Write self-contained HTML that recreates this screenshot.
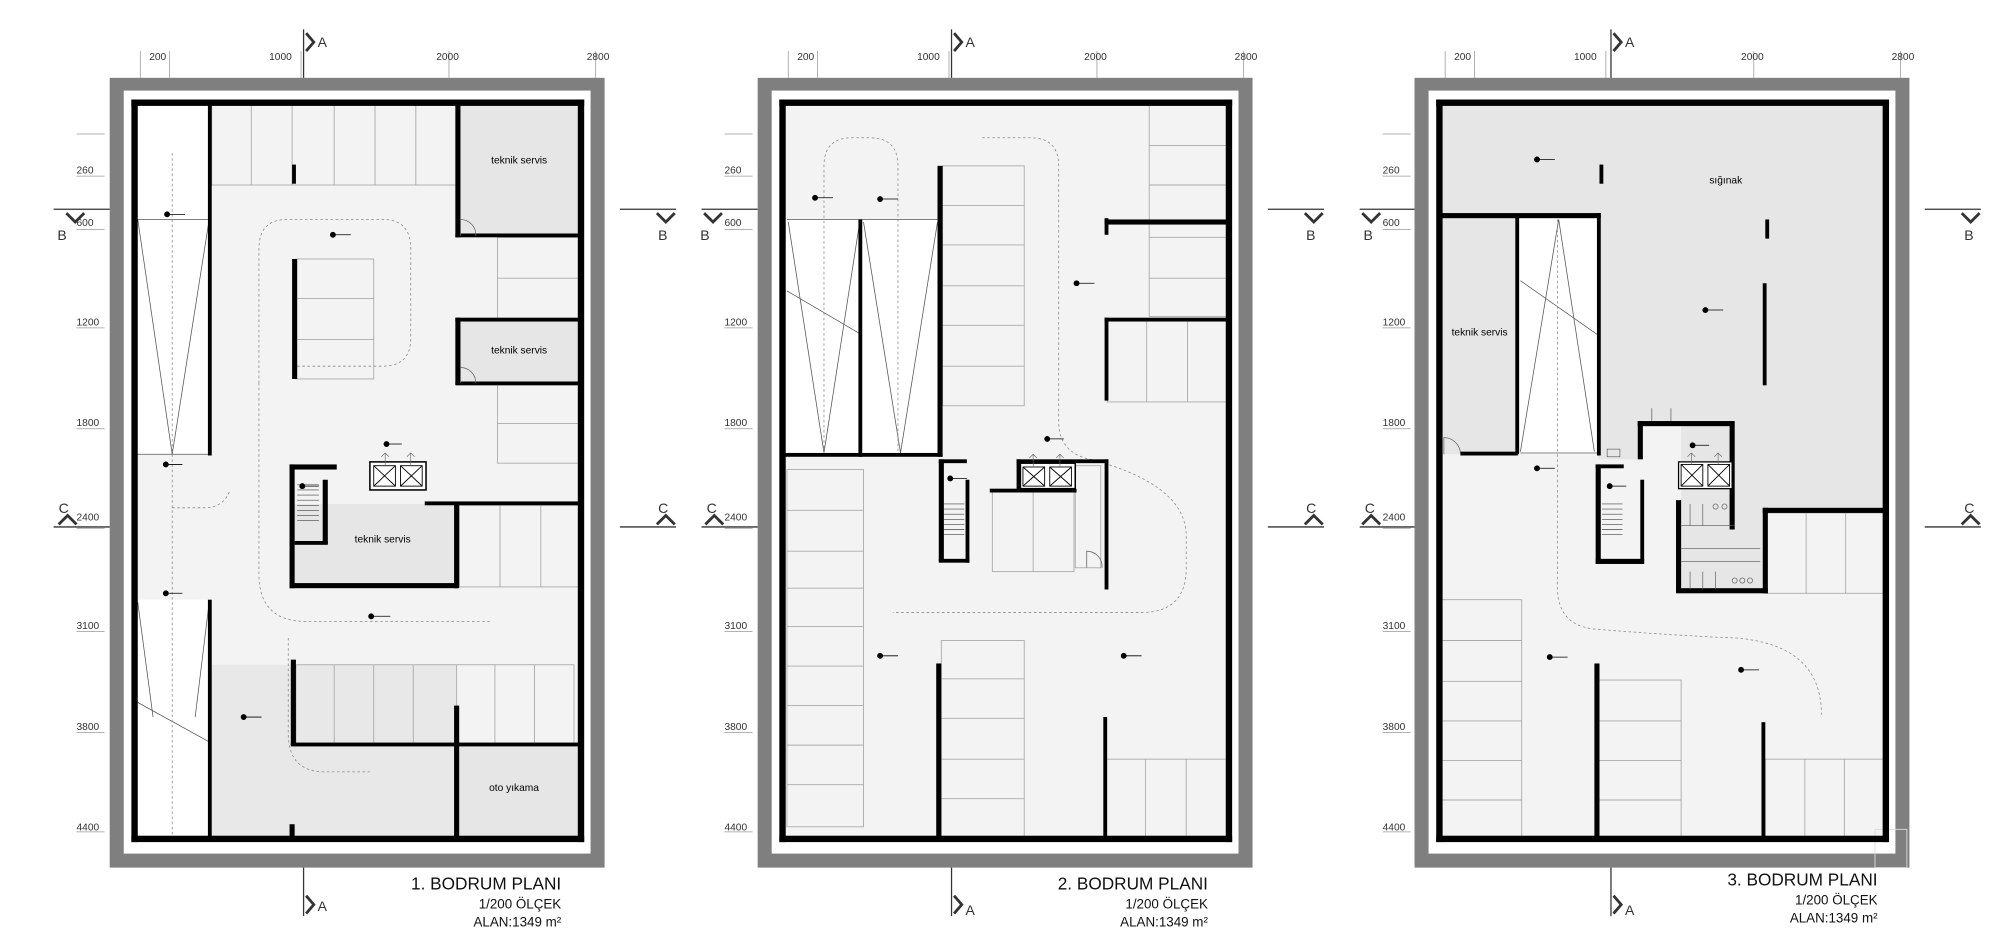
<!DOCTYPE html>
<html><head><meta charset="utf-8"><style>
html,body{margin:0;padding:0;background:#fff;}
svg{display:block;}
text{font-family:"Liberation Sans",sans-serif;}
</style></head><body>
<svg width="2000" height="948" viewBox="0 0 1568 743" preserveAspectRatio="none" xmlns="http://www.w3.org/2000/svg">
<rect width="1568" height="743" fill="#fff"/>

<!-- ================= PLAN 1 ================= -->
<g>
<!-- frame -->
<rect x="86" y="61" width="388" height="619" fill="#7f7f7f"/>
<rect x="97" y="71" width="366" height="598" fill="#fff"/>
<rect x="105" y="80" width="351" height="578" fill="#f3f3f3"/>
<!-- shaded -->
<rect x="166" y="521" width="192" height="137" fill="#e8e8e8"/>
<rect x="358" y="584" width="98" height="74" fill="#e6e6e6"/>
<rect x="360" y="82" width="96" height="102" fill="#e6e6e6"/>
<rect x="360" y="251" width="96" height="49" fill="#e6e6e6"/>
<rect x="230" y="395" width="126" height="64" fill="#e6e6e6"/>
<!-- ramps -->
<rect x="107" y="82" width="58" height="274" fill="#fff"/>
<rect x="107" y="470" width="58" height="188" fill="#fff"/>
<g stroke="#555" stroke-width="0.6" fill="none">
<line x1="107" y1="172" x2="165" y2="172"/><line x1="108" y1="172" x2="135" y2="356"/><line x1="164" y1="172" x2="135" y2="356"/>
<line x1="107" y1="356" x2="165" y2="356"/>
<line x1="108" y1="472" x2="120" y2="562"/><line x1="164" y1="472" x2="153" y2="562"/>
<line x1="107" y1="550" x2="165" y2="582"/>
</g>
<g stroke="#888" stroke-width="0.6" stroke-dasharray="2,2" fill="none">
<line x1="135" y1="120" x2="135" y2="658"/>
<path d="M226 500 L226 575 Q226 605 255 605 L290 605"/>
<path d="M233 287 L300 287 Q322 287 322 265 L322 195 Q322 172 300 172 L225 172 Q203 172 203 195 L203 300"/>
<path d="M135 398 L160 398 Q175 398 180 385 M203 300 L203 450 Q203 487 240 487 L386 487"/>
</g>
<!-- parking stalls -->
<g stroke="#aaa" stroke-width="0.7" fill="none">
<rect x="166" y="82" width="192" height="63"/>
<line x1="197" y1="82" x2="197" y2="145"/><line x1="229" y1="82" x2="229" y2="145"/><line x1="262" y1="82" x2="262" y2="145"/><line x1="294" y1="82" x2="294" y2="145"/><line x1="326" y1="82" x2="326" y2="145"/>
<rect x="390" y="186" width="66" height="64"/><line x1="390" y1="218" x2="456" y2="218"/>
<rect x="390" y="301" width="66" height="62"/><line x1="390" y1="332" x2="456" y2="332"/>
<rect x="360" y="396" width="96" height="64"/><line x1="392" y1="396" x2="392" y2="460"/><line x1="424" y1="396" x2="424" y2="460"/>
<rect x="232" y="521" width="218" height="63"/>
<line x1="262" y1="521" x2="262" y2="584"/><line x1="293" y1="521" x2="293" y2="584"/><line x1="324" y1="521" x2="324" y2="584"/><line x1="358" y1="521" x2="358" y2="584"/><line x1="388" y1="521" x2="388" y2="584"/><line x1="419" y1="521" x2="419" y2="584"/>
<rect x="232" y="203" width="61" height="94"/><line x1="232" y1="234" x2="293" y2="234"/><line x1="232" y1="266" x2="293" y2="266"/>
</g>
<!-- walls -->
<g fill="#000">
<rect x="103" y="78" width="355" height="5"/><rect x="103" y="655" width="355" height="5"/>
<rect x="103" y="78" width="5" height="582"/><rect x="453" y="78" width="5" height="582"/>
<rect x="163" y="82" width="3" height="275"/><rect x="163" y="470" width="3" height="188"/>
<rect x="357" y="82" width="4" height="104"/><rect x="357" y="183" width="99" height="3"/>
<rect x="357" y="249" width="99" height="3"/><rect x="357" y="249" width="4" height="52"/><rect x="357" y="299" width="99" height="3"/>
<rect x="229" y="129" width="3" height="15"/>
<rect x="229" y="203" width="4" height="94"/>
<rect x="227" y="364" width="4" height="97"/><rect x="227" y="364" width="37" height="4"/><rect x="227" y="457" width="132" height="4"/><rect x="356" y="394" width="4" height="67"/><rect x="333" y="393" width="124" height="3"/>
<rect x="253" y="376" width="4" height="50"/><rect x="231" y="424" width="26" height="3"/>
<rect x="228" y="517" width="4" height="67"/><rect x="228" y="582" width="228" height="3"/>
<rect x="356" y="553" width="4" height="105"/>
<rect x="227" y="646" width="4" height="10"/>
</g>
<!-- lifts -->
<g stroke="#000" stroke-width="1.2" fill="#fff">
<rect x="290" y="362" width="44" height="22"/>
</g>
<g stroke="#000" stroke-width="0.7" fill="none">
<rect x="293" y="365" width="17" height="16"/><line x1="293" y1="365" x2="310" y2="381"/><line x1="310" y1="365" x2="293" y2="381"/>
<rect x="314" y="365" width="17" height="16"/><line x1="314" y1="365" x2="331" y2="381"/><line x1="331" y1="365" x2="314" y2="381"/>
<path d="M302 365 V355 M299 358 L302 355 L305 358 M322 365 V355 M319 358 L322 355 L325 358" stroke="#666" stroke-width="0.5"/>
<path d="M233 380 H250 M233 384 H250 M233 388 H250 M233 392 H250 M233 396 H250 M233 400 H250 M233 404 H250 M233 408 H250" stroke="#444" stroke-width="0.5"/>
<path d="M361 185 V172 A12 12 0 0 1 373 185 M361 300 V288 A12 12 0 0 1 373 300" stroke="#666" stroke-width="0.6"/>
</g>
<text x="407" y="128" font-size="8" text-anchor="middle">teknik servis</text>
<text x="407" y="277" font-size="8" text-anchor="middle">teknik servis</text>
<text x="300" y="425" font-size="8" text-anchor="middle">teknik servis</text>
<text x="403" y="620" font-size="8" text-anchor="middle">oto yıkama</text>
<!-- level marks -->
<g stroke="#000" stroke-width="0.6"><circle cx="131" cy="168" r="2" fill="#000"/><line x1="131" y1="168" x2="145" y2="168"/>
<circle cx="261" cy="184" r="2" fill="#000"/><line x1="261" y1="184" x2="275" y2="184"/>
<circle cx="130" cy="364" r="2" fill="#000"/><line x1="130" y1="364" x2="143" y2="364"/>
<circle cx="303" cy="348" r="2" fill="#000"/><line x1="303" y1="348" x2="315" y2="348"/>
<circle cx="237" cy="381" r="2" fill="#000"/><line x1="237" y1="381" x2="250" y2="381"/>
<circle cx="130" cy="465" r="2" fill="#000"/><line x1="130" y1="465" x2="143" y2="465"/>
<circle cx="291" cy="483" r="2" fill="#000"/><line x1="291" y1="483" x2="306" y2="483"/>
<circle cx="191" cy="562" r="2" fill="#000"/><line x1="191" y1="562" x2="205" y2="562"/></g>
</g>

<!-- ================= PLAN 2 ================= -->
<g>
<rect x="594" y="61" width="388" height="619" fill="#7f7f7f"/>
<rect x="605" y="71" width="366" height="598" fill="#fff"/>
<rect x="613" y="80" width="351" height="578" fill="#f3f3f3"/>
<rect x="615" y="172" width="122" height="185" fill="#fff"/>
<g stroke="#555" stroke-width="0.6" fill="none">
<line x1="617" y1="172" x2="737" y2="172"/>
<line x1="618" y1="174" x2="646" y2="355"/><line x1="674" y1="174" x2="646" y2="355"/>
<line x1="677" y1="174" x2="706" y2="355"/><line x1="735" y1="174" x2="706" y2="355"/>
<line x1="617" y1="228" x2="675" y2="262"/>
</g>
<g stroke="#888" stroke-width="0.6" stroke-dasharray="2,2" fill="none">
<path d="M646 355 V130 Q646 108 668 108 L682 108 Q704 108 704 130 V355"/>
<path d="M770 108 L808 108 Q830 108 830 130 L830 330 Q830 355 855 360 Q930 380 930 420 L930 445 Q930 480 895 480 L700 480"/>
</g>
<g stroke="#aaa" stroke-width="0.7" fill="none">
<rect x="739" y="130" width="64" height="188"/>
<line x1="739" y1="161" x2="803" y2="161"/><line x1="739" y1="192" x2="803" y2="192"/><line x1="739" y1="224" x2="803" y2="224"/><line x1="739" y1="255" x2="803" y2="255"/><line x1="739" y1="287" x2="803" y2="287"/>
<rect x="901" y="82" width="61" height="166"/>
<line x1="901" y1="114" x2="962" y2="114"/><line x1="901" y1="145" x2="962" y2="145"/><line x1="901" y1="186" x2="962" y2="186"/><line x1="901" y1="218" x2="962" y2="218"/>
<rect x="868" y="251" width="94" height="64"/><line x1="899" y1="251" x2="899" y2="315"/><line x1="931" y1="251" x2="931" y2="315"/>
<rect x="617" y="368" width="60" height="280"/>
<line x1="617" y1="400" x2="677" y2="400"/><line x1="617" y1="432" x2="677" y2="432"/><line x1="617" y1="461" x2="677" y2="461"/><line x1="617" y1="491" x2="677" y2="491"/><line x1="617" y1="522" x2="677" y2="522"/><line x1="617" y1="553" x2="677" y2="553"/><line x1="617" y1="584" x2="677" y2="584"/><line x1="617" y1="615" x2="677" y2="615"/>
<rect x="738" y="502" width="65" height="155"/>
<line x1="738" y1="532" x2="803" y2="532"/><line x1="738" y1="563" x2="803" y2="563"/><line x1="738" y1="595" x2="803" y2="595"/><line x1="738" y1="626" x2="803" y2="626"/>
<rect x="867" y="595" width="95" height="62"/><line x1="898" y1="595" x2="898" y2="657"/><line x1="930" y1="595" x2="930" y2="657"/>
<rect x="778" y="385" width="64" height="63"/><line x1="810" y1="385" x2="810" y2="448"/>
<rect x="843" y="365" width="20" height="80"/>
</g>
<g fill="#000">
<rect x="611" y="78" width="355" height="5"/><rect x="611" y="655" width="355" height="5"/>
<rect x="611" y="78" width="5" height="582"/><rect x="961" y="78" width="5" height="582"/>
<rect x="735" y="130" width="4" height="228"/>
<rect x="673" y="172" width="3" height="186"/>
<rect x="613" y="355" width="126" height="3"/>
<rect x="866" y="172" width="96" height="4"/><rect x="866" y="171" width="3" height="13"/>
<rect x="866" y="249" width="96" height="3"/><rect x="866" y="249" width="3" height="65"/>
<rect x="736" y="360" width="4" height="80"/><rect x="736" y="360" width="22" height="3"/><rect x="736" y="438" width="24" height="3"/><rect x="757" y="376" width="3" height="65"/>
<rect x="797" y="360" width="72" height="3"/><rect x="866" y="360" width="3" height="102"/>
<rect x="797" y="360" width="3" height="24"/><rect x="776" y="383" width="68" height="3"/>
<rect x="734" y="520" width="4" height="138"/>
<rect x="865" y="562" width="3" height="96"/>
</g>
<g stroke="#000" stroke-width="0.7" fill="none">
<rect x="800" y="363" width="43" height="20" fill="#fff" stroke-width="1.2"/>
<rect x="802" y="366" width="17" height="15"/><line x1="802" y1="366" x2="819" y2="381"/><line x1="819" y1="366" x2="802" y2="381"/>
<rect x="823" y="366" width="17" height="15"/><line x1="823" y1="366" x2="840" y2="381"/><line x1="840" y1="366" x2="823" y2="381"/>
<path d="M810 366 V356 M807 359 L810 356 L813 359 M831 366 V356 M828 359 L831 356 L834 359" stroke="#666" stroke-width="0.5"/>
<path d="M740 395 H756 M740 399 H756 M740 403 H756 M740 407 H756 M740 411 H756 M740 415 H756 M740 419 H756" stroke="#444" stroke-width="0.5"/>
<path d="M852 445 V432 A12 12 0 0 1 864 445" stroke="#666" stroke-width="0.6"/>
</g>
<g stroke="#000" stroke-width="0.6"><circle cx="639" cy="155" r="2" fill="#000"/><line x1="639" y1="155" x2="653" y2="155"/>
<circle cx="690" cy="156" r="2" fill="#000"/><line x1="690" y1="156" x2="704" y2="156"/>
<circle cx="844" cy="222" r="2" fill="#000"/><line x1="844" y1="222" x2="858" y2="222"/>
<circle cx="821" cy="344" r="2" fill="#000"/><line x1="821" y1="344" x2="834" y2="344"/>
<circle cx="745" cy="375" r="2" fill="#000"/><line x1="745" y1="375" x2="758" y2="375"/>
<circle cx="690" cy="514" r="2" fill="#000"/><line x1="690" y1="514" x2="704" y2="514"/>
<circle cx="881" cy="514" r="2" fill="#000"/><line x1="881" y1="514" x2="895" y2="514"/></g>
</g>

<!-- ================= PLAN 3 ================= -->
<g>
<rect x="1109" y="61" width="388" height="619" fill="#7f7f7f"/>
<rect x="1120" y="71" width="366" height="598" fill="#fff"/>
<rect x="1128" y="80" width="351" height="578" fill="#f3f3f3"/>
<path d="M1130 82 H1477 V400 H1383 V462 H1318 V330 H1287 V360 H1253 V168 H1130 Z" fill="#e6e6e6"/>
<rect x="1130" y="170" width="59" height="186" fill="#e6e6e6"/>
<rect x="1191" y="170" width="61" height="186" fill="#fff"/>
<g stroke="#555" stroke-width="0.6" fill="none">
<line x1="1192" y1="354" x2="1222" y2="172"/><line x1="1250" y1="354" x2="1222" y2="172"/>
<line x1="1192" y1="355" x2="1253" y2="355"/>
<line x1="1192" y1="220" x2="1252" y2="262"/>
</g>
<g stroke="#888" stroke-width="0.6" stroke-dasharray="2,2" fill="none">
<path d="M1221 172 V460 Q1221 490 1250 493 Q1310 498 1360 500 Q1428 505 1428 560"/>
</g>
<g stroke="#aaa" stroke-width="0.7" fill="none">
<rect x="1385" y="402" width="92" height="63"/><line x1="1416" y1="402" x2="1416" y2="465"/><line x1="1447" y1="402" x2="1447" y2="465"/>
<rect x="1130" y="470" width="63" height="187"/>
<line x1="1130" y1="502" x2="1193" y2="502"/><line x1="1130" y1="534" x2="1193" y2="534"/><line x1="1130" y1="565" x2="1193" y2="565"/><line x1="1130" y1="596" x2="1193" y2="596"/><line x1="1130" y1="627" x2="1193" y2="627"/>
<rect x="1253" y="533" width="65" height="124"/><line x1="1253" y1="565" x2="1318" y2="565"/><line x1="1253" y1="596" x2="1318" y2="596"/><line x1="1253" y1="627" x2="1318" y2="627"/>
<rect x="1384" y="595" width="93" height="62"/><line x1="1415" y1="595" x2="1415" y2="657"/><line x1="1446" y1="595" x2="1446" y2="657"/>
<rect x="1470" y="650" width="25" height="30" stroke="#ddd"/>
</g>
<g fill="#000">
<rect x="1126" y="78" width="355" height="5"/><rect x="1126" y="655" width="355" height="5"/>
<rect x="1126" y="78" width="5" height="582"/><rect x="1476" y="78" width="5" height="582"/>
<rect x="1130" y="167" width="125" height="4"/><rect x="1252" y="167" width="3" height="190"/>
<rect x="1188" y="170" width="3" height="186"/><rect x="1145" y="354" width="45" height="3"/>
<rect x="1254" y="129" width="3" height="15"/><rect x="1384" y="172" width="3" height="15"/><rect x="1382" y="222" width="3" height="80"/>
<rect x="1251" y="364" width="4" height="78"/><rect x="1251" y="364" width="22" height="3"/><rect x="1251" y="438" width="38" height="4"/><rect x="1286" y="376" width="3" height="66"/>
<rect x="1284" y="330" width="4" height="30"/><rect x="1284" y="330" width="75" height="4"/><rect x="1356" y="330" width="4" height="85"/>
<rect x="1314" y="392" width="4" height="72"/><rect x="1314" y="461" width="72" height="4"/><rect x="1382" y="398" width="4" height="67"/><rect x="1382" y="398" width="97" height="4"/>
<rect x="1250" y="520" width="4" height="138"/><rect x="1381" y="566" width="3" height="92"/>
</g>
<g stroke="#000" stroke-width="0.7" fill="none">
<rect x="1316" y="362" width="42" height="21" fill="#fff" stroke-width="1"/>
<rect x="1318" y="364" width="17" height="17"/><line x1="1318" y1="364" x2="1335" y2="381"/><line x1="1335" y1="364" x2="1318" y2="381"/>
<rect x="1339" y="364" width="17" height="17"/><line x1="1339" y1="364" x2="1356" y2="381"/><line x1="1356" y1="364" x2="1339" y2="381"/>
<path d="M1326 364 V355 M1323 358 L1326 355 L1329 358 M1347 364 V355 M1344 358 L1347 355 L1350 358" stroke="#666" stroke-width="0.5"/>
<path d="M1256 395 H1272 M1256 399 H1272 M1256 403 H1272 M1256 407 H1272 M1256 411 H1272 M1256 415 H1272 M1256 419 H1272" stroke="#444" stroke-width="0.5"/>
<path d="M1132 356 V343 A13 13 0 0 1 1145 356" stroke="#666" stroke-width="0.6"/>
<path d="M1295 330 V320 M1310 330 V320" stroke="#666" stroke-width="0.6"/>
<rect x="1260" y="352" width="10" height="6" stroke="#555" stroke-width="0.5"/>
<path d="M1318 412 H1360 M1318 430 H1380 M1318 440 H1380" stroke="#555" stroke-width="0.5"/>
<circle cx="1345" cy="397" r="2" stroke="#555" stroke-width="0.5"/><circle cx="1352" cy="397" r="2" stroke="#555" stroke-width="0.5"/>
<circle cx="1360" cy="455" r="2" stroke="#555" stroke-width="0.5"/><circle cx="1366" cy="455" r="2" stroke="#555" stroke-width="0.5"/><circle cx="1372" cy="455" r="2" stroke="#555" stroke-width="0.5"/>
<path d="M1325 462 V448 M1335 462 V448 M1345 462 V448 M1325 412 V395 M1335 412 V395" stroke="#555" stroke-width="0.5"/>
</g>
<text x="1353" y="144" font-size="8" text-anchor="middle">sığınak</text>
<text x="1160" y="263" font-size="8" text-anchor="middle">teknik servis</text>
<g stroke="#000" stroke-width="0.6"><circle cx="1205" cy="125" r="2" fill="#000"/><line x1="1205" y1="125" x2="1219" y2="125"/>
<circle cx="1337" cy="243" r="2" fill="#000"/><line x1="1337" y1="243" x2="1351" y2="243"/>
<circle cx="1327" cy="349" r="2" fill="#000"/><line x1="1327" y1="349" x2="1340" y2="349"/>
<circle cx="1205" cy="367" r="2" fill="#000"/><line x1="1205" y1="367" x2="1219" y2="367"/>
<circle cx="1262" cy="381" r="2" fill="#000"/><line x1="1262" y1="381" x2="1275" y2="381"/>
<circle cx="1215" cy="515" r="2" fill="#000"/><line x1="1215" y1="515" x2="1229" y2="515"/>
<circle cx="1365" cy="525" r="2" fill="#000"/><line x1="1365" y1="525" x2="1379" y2="525"/></g>
</g>

<!-- ================= DIMENSIONS & SECTION MARKS ================= -->
<g stroke="#999" stroke-width="0.6">
<!-- top ticks -->
<line x1="110" y1="40" x2="110" y2="61"/><line x1="133" y1="40" x2="133" y2="61"/><line x1="236" y1="40" x2="236" y2="61"/><line x1="352" y1="40" x2="352" y2="61"/><line x1="467" y1="40" x2="467" y2="61"/>
<line x1="618" y1="40" x2="618" y2="61"/><line x1="641" y1="40" x2="641" y2="61"/><line x1="744" y1="40" x2="744" y2="61"/><line x1="860" y1="40" x2="860" y2="61"/><line x1="975" y1="40" x2="975" y2="61"/>
<line x1="1133" y1="40" x2="1133" y2="61"/><line x1="1156" y1="40" x2="1156" y2="61"/><line x1="1259" y1="40" x2="1259" y2="61"/><line x1="1375" y1="40" x2="1375" y2="61"/><line x1="1490" y1="40" x2="1490" y2="61"/>
<!-- left ticks -->
<line x1="60" y1="105" x2="82" y2="105"/><line x1="60" y1="138" x2="82" y2="138"/><line x1="60" y1="180" x2="82" y2="180"/><line x1="60" y1="257" x2="82" y2="257"/><line x1="60" y1="336" x2="82" y2="336"/><line x1="60" y1="414" x2="82" y2="414"/><line x1="60" y1="495" x2="82" y2="495"/><line x1="60" y1="574" x2="82" y2="574"/><line x1="60" y1="652" x2="82" y2="652"/>
<line x1="568" y1="105" x2="590" y2="105"/><line x1="568" y1="138" x2="590" y2="138"/><line x1="568" y1="180" x2="590" y2="180"/><line x1="568" y1="257" x2="590" y2="257"/><line x1="568" y1="336" x2="590" y2="336"/><line x1="568" y1="414" x2="590" y2="414"/><line x1="568" y1="495" x2="590" y2="495"/><line x1="568" y1="574" x2="590" y2="574"/><line x1="568" y1="652" x2="590" y2="652"/>
<line x1="1084" y1="105" x2="1106" y2="105"/><line x1="1084" y1="138" x2="1106" y2="138"/><line x1="1084" y1="180" x2="1106" y2="180"/><line x1="1084" y1="257" x2="1106" y2="257"/><line x1="1084" y1="336" x2="1106" y2="336"/><line x1="1084" y1="414" x2="1106" y2="414"/><line x1="1084" y1="495" x2="1106" y2="495"/><line x1="1084" y1="574" x2="1106" y2="574"/><line x1="1084" y1="652" x2="1106" y2="652"/>
</g>
<g font-size="8" fill="#333">
<text x="117" y="47">200</text><text x="211" y="47">1000</text><text x="342" y="47">2000</text><text x="460" y="47">2800</text>
<text x="625" y="47">200</text><text x="719" y="47">1000</text><text x="850" y="47">2000</text><text x="968" y="47">2800</text>
<text x="1140" y="47">200</text><text x="1234" y="47">1000</text><text x="1365" y="47">2000</text><text x="1483" y="47">2800</text>
<text x="60" y="136">260</text><text x="60" y="177">600</text><text x="60" y="255">1200</text><text x="60" y="334">1800</text><text x="60" y="408">2400</text><text x="60" y="493">3100</text><text x="60" y="572">3800</text><text x="60" y="651">4400</text>
<text x="568" y="136">260</text><text x="568" y="177">600</text><text x="568" y="255">1200</text><text x="568" y="334">1800</text><text x="568" y="408">2400</text><text x="568" y="493">3100</text><text x="568" y="572">3800</text><text x="568" y="651">4400</text>
<text x="1084" y="136">260</text><text x="1084" y="177">600</text><text x="1084" y="255">1200</text><text x="1084" y="334">1800</text><text x="1084" y="408">2400</text><text x="1084" y="493">3100</text><text x="1084" y="572">3800</text><text x="1084" y="651">4400</text>
</g>
<!-- section A -->
<g stroke="#333" stroke-width="1" fill="none">
<line x1="238" y1="23" x2="238" y2="61"/><line x1="238" y1="680" x2="238" y2="718"/>
<line x1="746" y1="23" x2="746" y2="61"/><line x1="746" y1="680" x2="746" y2="718"/>
<line x1="1263" y1="23" x2="1263" y2="61"/><line x1="1263" y1="680" x2="1263" y2="718"/>
<line x1="42" y1="164" x2="86" y2="164"/><line x1="486" y1="164" x2="530" y2="164"/>
<line x1="550" y1="164" x2="594" y2="164"/><line x1="994" y1="164" x2="1038" y2="164"/>
<line x1="1066" y1="164" x2="1109" y2="164"/><line x1="1509" y1="164" x2="1553" y2="164"/>
<line x1="42" y1="413" x2="86" y2="413"/><line x1="486" y1="413" x2="530" y2="413"/>
<line x1="550" y1="413" x2="594" y2="413"/><line x1="994" y1="413" x2="1038" y2="413"/>
<line x1="1066" y1="413" x2="1109" y2="413"/><line x1="1509" y1="413" x2="1553" y2="413"/>
</g>
<g stroke="#333" stroke-width="2.2" fill="none">
<path d="M240 26 L246 33 L240 40"/><path d="M240 702 L246 709 L240 716"/>
<path d="M748 26 L754 33 L748 40"/><path d="M748 702 L754 709 L748 716"/>
<path d="M1265 26 L1271 33 L1265 40"/><path d="M1265 702 L1271 709 L1265 716"/>
<path d="M52 167 L59 174 L66 167"/><path d="M515 167 L522 174 L529 167"/>
<path d="M552 167 L559 174 L566 167"/><path d="M1023 167 L1030 174 L1037 167"/>
<path d="M1068 167 L1075 174 L1082 167"/><path d="M1538 167 L1545 174 L1552 167"/>
<path d="M46 411 L53 404 L60 411"/><path d="M515 411 L522 404 L529 411"/>
<path d="M553 411 L560 404 L567 411"/><path d="M1023 411 L1030 404 L1037 411"/>
<path d="M1068 411 L1075 404 L1082 411"/><path d="M1538 411 L1545 404 L1552 411"/>
</g>
<g font-size="11" fill="#333">
<text x="249" y="37">A</text><text x="249" y="714">A</text>
<text x="757" y="37">A</text><text x="757" y="717">A</text>
<text x="1274" y="37">A</text><text x="1274" y="717">A</text>
<text x="45" y="188">B</text><text x="516" y="188">B</text>
<text x="549" y="188">B</text><text x="1024" y="188">B</text>
<text x="1069" y="188">B</text><text x="1540" y="188">B</text>
<text x="46" y="402">C</text><text x="516" y="402">C</text>
<text x="554" y="402">C</text><text x="1024" y="402">C</text>
<text x="1070" y="402">C</text><text x="1540" y="402">C</text>
</g>
<!-- titles -->
<g fill="#111" text-anchor="end">
<text x="440" y="697" font-size="13.5">1. BODRUM PLANI</text>
<text x="440" y="712" font-size="10.5">1/200 ÖLÇEK</text>
<text x="440" y="726" font-size="10.5">ALAN:1349 m²</text>
<text x="947" y="697" font-size="13.5">2. BODRUM PLANI</text>
<text x="947" y="712" font-size="10.5">1/200 ÖLÇEK</text>
<text x="947" y="726" font-size="10.5">ALAN:1349 m²</text>
<text x="1472" y="694" font-size="13.5">3. BODRUM PLANI</text>
<text x="1472" y="709" font-size="10.5">1/200 ÖLÇEK</text>
<text x="1472" y="723" font-size="10.5">ALAN:1349 m²</text>
</g>
</svg>
</body></html>
